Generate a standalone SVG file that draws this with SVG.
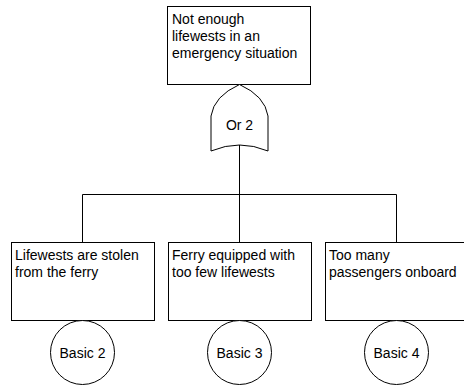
<svg xmlns="http://www.w3.org/2000/svg" width="464" height="390" viewBox="0 0 464 390">
<style>
.box{fill:#fff;stroke:#000;stroke-width:1}
.t{font-family:"Liberation Sans",Arial,sans-serif;font-size:14px;fill:#000}
.c{text-anchor:middle}
.ln{fill:none;stroke:#000;stroke-width:1}
</style>
<rect width="464" height="390" fill="#fff"/>
<g id="connectors">
<path class="ln" d="M239.5,145 V194.5 M82.5,194.5 H396.5 M82.5,194.5 V242.5 M239.5,194.5 V242.5 M396.5,194.5 V242.5"/>
</g>
<g id="top">
<rect class="box" x="167.5" y="6.5" width="143" height="78"/>
<text class="t" x="172" y="23.5">Not enough</text>
<text class="t" x="172" y="40.5">lifewests in an</text>
<text class="t" x="172" y="57.5">emergency situation</text>
</g>
<g id="or2">
<path class="box" d="M211,151 L211,116 Q214,96 239.5,84.5 Q265,96 268,116 L268,151 Q239.5,139 211,151 Z"/>
<text class="t c" x="239.5" y="130">Or 2</text>
</g>
<g id="e1">
<rect class="box" x="11.5" y="242.5" width="143" height="78"/>
<text class="t" x="15" y="260">Lifewests are stolen</text>
<text class="t" x="15" y="277">from the ferry</text>
</g>
<g id="e2">
<rect class="box" x="168.5" y="242.5" width="143" height="78"/>
<text class="t" x="172" y="260">Ferry equipped with</text>
<text class="t" x="172" y="277">too few lifewests</text>
</g>
<g id="e3">
<rect class="box" x="325.5" y="242.5" width="143" height="78"/>
<text class="t" x="329" y="260">Too many</text>
<text class="t" x="329" y="277">passengers onboard</text>
</g>
<g id="basic2">
<circle class="box" cx="82.5" cy="352.5" r="32"/>
<text class="t c" x="82.5" y="357.5">Basic 2</text>
</g>
<g id="basic3">
<circle class="box" cx="239.5" cy="352.5" r="32"/>
<text class="t c" x="239.5" y="357.5">Basic 3</text>
</g>
<g id="basic4">
<circle class="box" cx="396.5" cy="352.5" r="32"/>
<text class="t c" x="396.5" y="357.5">Basic 4</text>
</g>
</svg>
